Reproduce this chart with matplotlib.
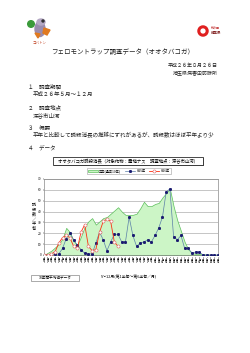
import matplotlib
matplotlib.use('Agg')
import matplotlib.pyplot as plt
from matplotlib.patches import Ellipse, Circle, Rectangle, Polygon

plt.rcParams['font.family'] = ['Noto Sans CJK JP', 'DejaVu Sans']

#=======================================================
#                    Data
#=======================================================

months = [5, 6, 7, 8, 9, 10, 11, 12]
periods = [1, 2, 3, 4, 5, 6]
xlabels = ['%d月第%d' % (m, k) for m in months for k in periods]

# 平年 (past 10 years), H25, H26 catches per half-decade
heinen = [0, 2, 4, 7, 10, 15, 25, 21, 13, 9, 17, 26, 31, 34, 28, 31,
          34, 35, 38, 41, 44, 40, 37, 37, 37, 38, 43, 49, 45, 45, 47, 48,
          53, 57, 61, 45, 32, 22, 12, 5, 2, 1, 1, 0.5, 0.5, 0.3, 0.3, 0]
h25 = [0, 0, 0, 0.5, 1, 6, 15, 20, 14, 9, 5, 1.5, 1, 1, 11, 21,
       14, 4, 12, 19, 19, 12, 12, 35, 18, 8, 11, 12, 14, 12, 18, 25,
       35, 58, 61, 17, 14, 18, 6, 6, 1.5, 3, 2.5, 0, 0, 0, 0, 0]
h26 = [0, 0, 1, 3, 11, 16, 18, 16, 8, 6, 21, 28, 8, 4, 5, 21,
       31, 33, 31, 12, 8]

yticks = [0, 10, 20, 30, 40, 50, 60, 70]

W, H = 250, 353

fig = plt.figure(figsize=(W / 100, H / 100), dpi=100)
fig.patch.set_facecolor('white')

#=======================================================
#                 Page (document text)
#=======================================================

pg = fig.add_axes([0, 0, 1, 1])
pg.set_xlim(0, W)
pg.set_ylim(H, 0)
pg.axis('off')

# mascot (rough)
pg.add_patch(Ellipse((40, 29), 10, 15, color='#9a8cae', zorder=2))
pg.add_patch(Ellipse((41, 22), 8, 6, color='#b4a8c4', zorder=3))
pg.add_patch(Circle((31, 24), 3.3, color='#3a9a3a', zorder=4))
pg.add_patch(Polygon([[44, 28], [50, 30], [47, 35], [43, 33]], color='#e07a20', zorder=4))
pg.add_patch(Polygon([[35, 33], [40, 34], [38, 38]], color='#e07a20', zorder=4))
pg.add_patch(Circle((43, 21), 1.0, color='#303030', zorder=5))
pg.text(39, 42.5, 'コバトン', fontsize=2.5, color='#c04020', ha='center', va='center')

# prefecture logo
pg.add_patch(Circle((203, 31), 4.2, fill=False, ec='#e02020', lw=2.2, zorder=3))
pg.text(210.5, 28.5, '彩の国', fontsize=2.2, color='#c03030', ha='left', va='center')
pg.text(210.5, 33.5, '埼玉県', fontsize=2.5, color='#802020', ha='left', va='center',
        fontweight='bold')

pg.text(123, 51.5, 'フェロモントラップ調査データ（オオタバコガ）', fontsize=4.7,
        ha='center', va='center', color='#222222')
pg.text(218, 65.5, '平成２６年８月２６日', fontsize=3.6, ha='right', va='center', color='#222222')
pg.text(218, 72.5, '埼玉県病害虫防除所', fontsize=3.6, ha='right', va='center', color='#222222')

body = [(28, 86, '１　調査期間'),
        (33, 94, '平成２６年５月～１２月'),
        (28, 108, '２　調査地点'),
        (33, 115.5, '深谷市山河'),
        (28, 128.5, '３　概要'),
        (33, 135.5, '平年と比較して誘殺消長の推移にずれがあるが、誘殺数はほぼ平年より少'),
        (28, 149, '４　データ')]
for x, y, s in body:
    pg.text(x, y, s, fontsize=4.0, ha='left', va='center', color='#222222')

# chart title box
pg.add_patch(Rectangle((54, 157.5), 150, 8, fc='#9a9a9a', ec='none'))
pg.add_patch(Rectangle((53, 156.5), 150, 8, fc='white', ec='black', lw=0.5))
pg.text(128, 160.5, 'オオタバコガ誘殺消長（対象作物：露地ナス　調査地点：深谷市山河）',
        fontsize=3.2, ha='center', va='center', color='black')

# y label (stacked)
pg.text(33.5, 217, '\n'.join('誘殺数／半旬'), fontsize=3.0, ha='center', va='center',
        linespacing=1.25, color='black')

# x label
pg.text(129, 277, '5～12月(第1半旬～第6半旬／月)', fontsize=2.8, ha='center', va='center',
        color='black')

# bottom-left box
pg.add_patch(Rectangle((31, 274.5), 48, 6.5, fc='white', ec='#888888', lw=0.5))
pg.text(55, 277.8, '10年間平均値データ', fontsize=2.6, ha='center', va='center', color='black')

#=======================================================
#                    Chart
#=======================================================

ax = fig.add_axes([44 / W, 1 - 255 / H, 174 / W, 76 / H])
x = list(range(len(heinen)))
area = ax.fill_between(x, heinen, 0, facecolor='#ccf5c6', edgecolor='#5cbf5c',
                       linewidth=0.5, label='平年(過去10年)', zorder=2)
l25, = ax.plot(range(len(h25)), h25, color='#5a7fa8', lw=0.5, marker='s',
               ms=1.1, mfc='#1a1a70', mec='#1a1a70', label='H25年', zorder=4)
l26, = ax.plot(range(len(h26)), h26, color='#ff3010', lw=0.6, marker='o',
               ms=2.2, mfc='white', mec='#e06060', mew=0.4, label='H26年', zorder=5)

ax.set_xlim(0, len(heinen) - 1)
ax.set_ylim(0, 70)
ax.set_yticks(yticks)
ax.set_yticklabels([str(v) for v in yticks])
ax.yaxis.grid(True, color='#999999', lw=0.4, zorder=0)
ax.set_axisbelow(True)
for s in ax.spines.values():
    s.set_color('#888888')
    s.set_linewidth(0.5)
ax.tick_params(axis='y', labelsize=2.3, length=1, width=0.3, pad=1, colors='black')
ax.set_xticks(x)
ax.set_xticklabels(['\n'.join(lb) for lb in xlabels], fontsize=1.5, linespacing=0.85,
                   va='top')
ax.tick_params(axis='x', length=0.8, width=0.3, pad=0.6)

leg = ax.legend(handles=[area, l25, l26], ncol=3, loc='center',
                bbox_to_anchor=(129 / W, 1 - 171.2 / H), bbox_transform=fig.transFigure,
                fontsize=2.3, frameon=True, fancybox=False, edgecolor='#888888',
                handlelength=3.0, handleheight=0.8, columnspacing=1.2, handletextpad=0.5,
                borderpad=0.4)
leg.get_frame().set_linewidth(0.4)

plt.savefig('out.png', dpi=100)
